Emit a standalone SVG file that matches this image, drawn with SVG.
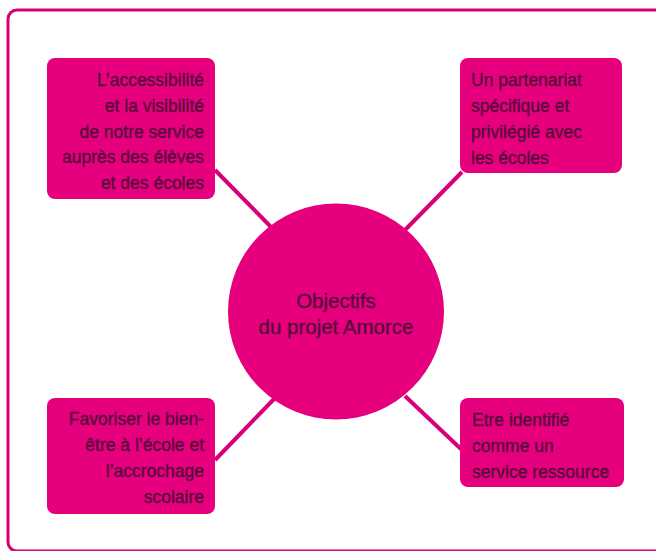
<svg xmlns="http://www.w3.org/2000/svg" width="656" height="551" viewBox="0 0 656 551">
<style>
.box{fill:#e6007e;}
.t{font-family:"Liberation Sans",Arial,sans-serif;font-size:17.5px;fill:#560a3a;stroke:#560a3a;stroke-width:0.35;}
.r{text-anchor:end;}
.c{text-anchor:middle;font-size:20.5px;}
.conn line{stroke:#d8007a;stroke-width:4;}
</style>
<rect width="656" height="551" fill="#ffffff"/>
<rect x="8" y="10" width="670" height="541" rx="9" fill="none" stroke="#d6006f" stroke-width="3"/>
<g class="conn">
<line x1="215" y1="170" x2="272" y2="228"/>
<line x1="462" y1="172" x2="405" y2="230"/>
<line x1="215" y1="460" x2="274" y2="399"/>
<line x1="462" y1="450" x2="405" y2="396"/>
</g>
<g id="center">
<circle cx="336" cy="311.5" r="108" class="box"/>
<text class="t c" x="336" y="308">Objectifs</text>
<text class="t c" x="336" y="334">du projet Amorce</text>
</g>
<g id="n1">
<rect x="47" y="58" width="168" height="141" rx="8" class="box"/>
<text class="t r" x="204" y="86">L’accessibilité</text>
<text class="t r" x="204" y="112">et la visibilité</text>
<text class="t r" x="204" y="138">de notre service</text>
<text class="t r" x="204" y="163">auprès des élèves</text>
<text class="t r" x="204" y="189">et des écoles</text>
</g>
<g id="n2">
<rect x="460" y="58" width="162" height="115" rx="8" class="box"/>
<text class="t" x="471" y="86">Un partenariat</text>
<text class="t" x="471" y="112">spécifique et</text>
<text class="t" x="471" y="138">privilégié avec</text>
<text class="t" x="471" y="164">les écoles</text>
</g>
<g id="n3">
<rect x="47" y="398" width="168" height="116" rx="8" class="box"/>
<text class="t r" x="204" y="425">Favoriser le bien-</text>
<text class="t r" x="204" y="451">être à l’école et</text>
<text class="t r" x="204" y="477">l’accrochage</text>
<text class="t r" x="204" y="503">scolaire</text>
</g>
<g id="n4">
<rect x="460" y="398" width="164" height="89" rx="8" class="box"/>
<text class="t" x="472" y="426">Etre identifié</text>
<text class="t" x="472" y="452">comme un</text>
<text class="t" x="472" y="478">service ressource</text>
</g>
</svg>
